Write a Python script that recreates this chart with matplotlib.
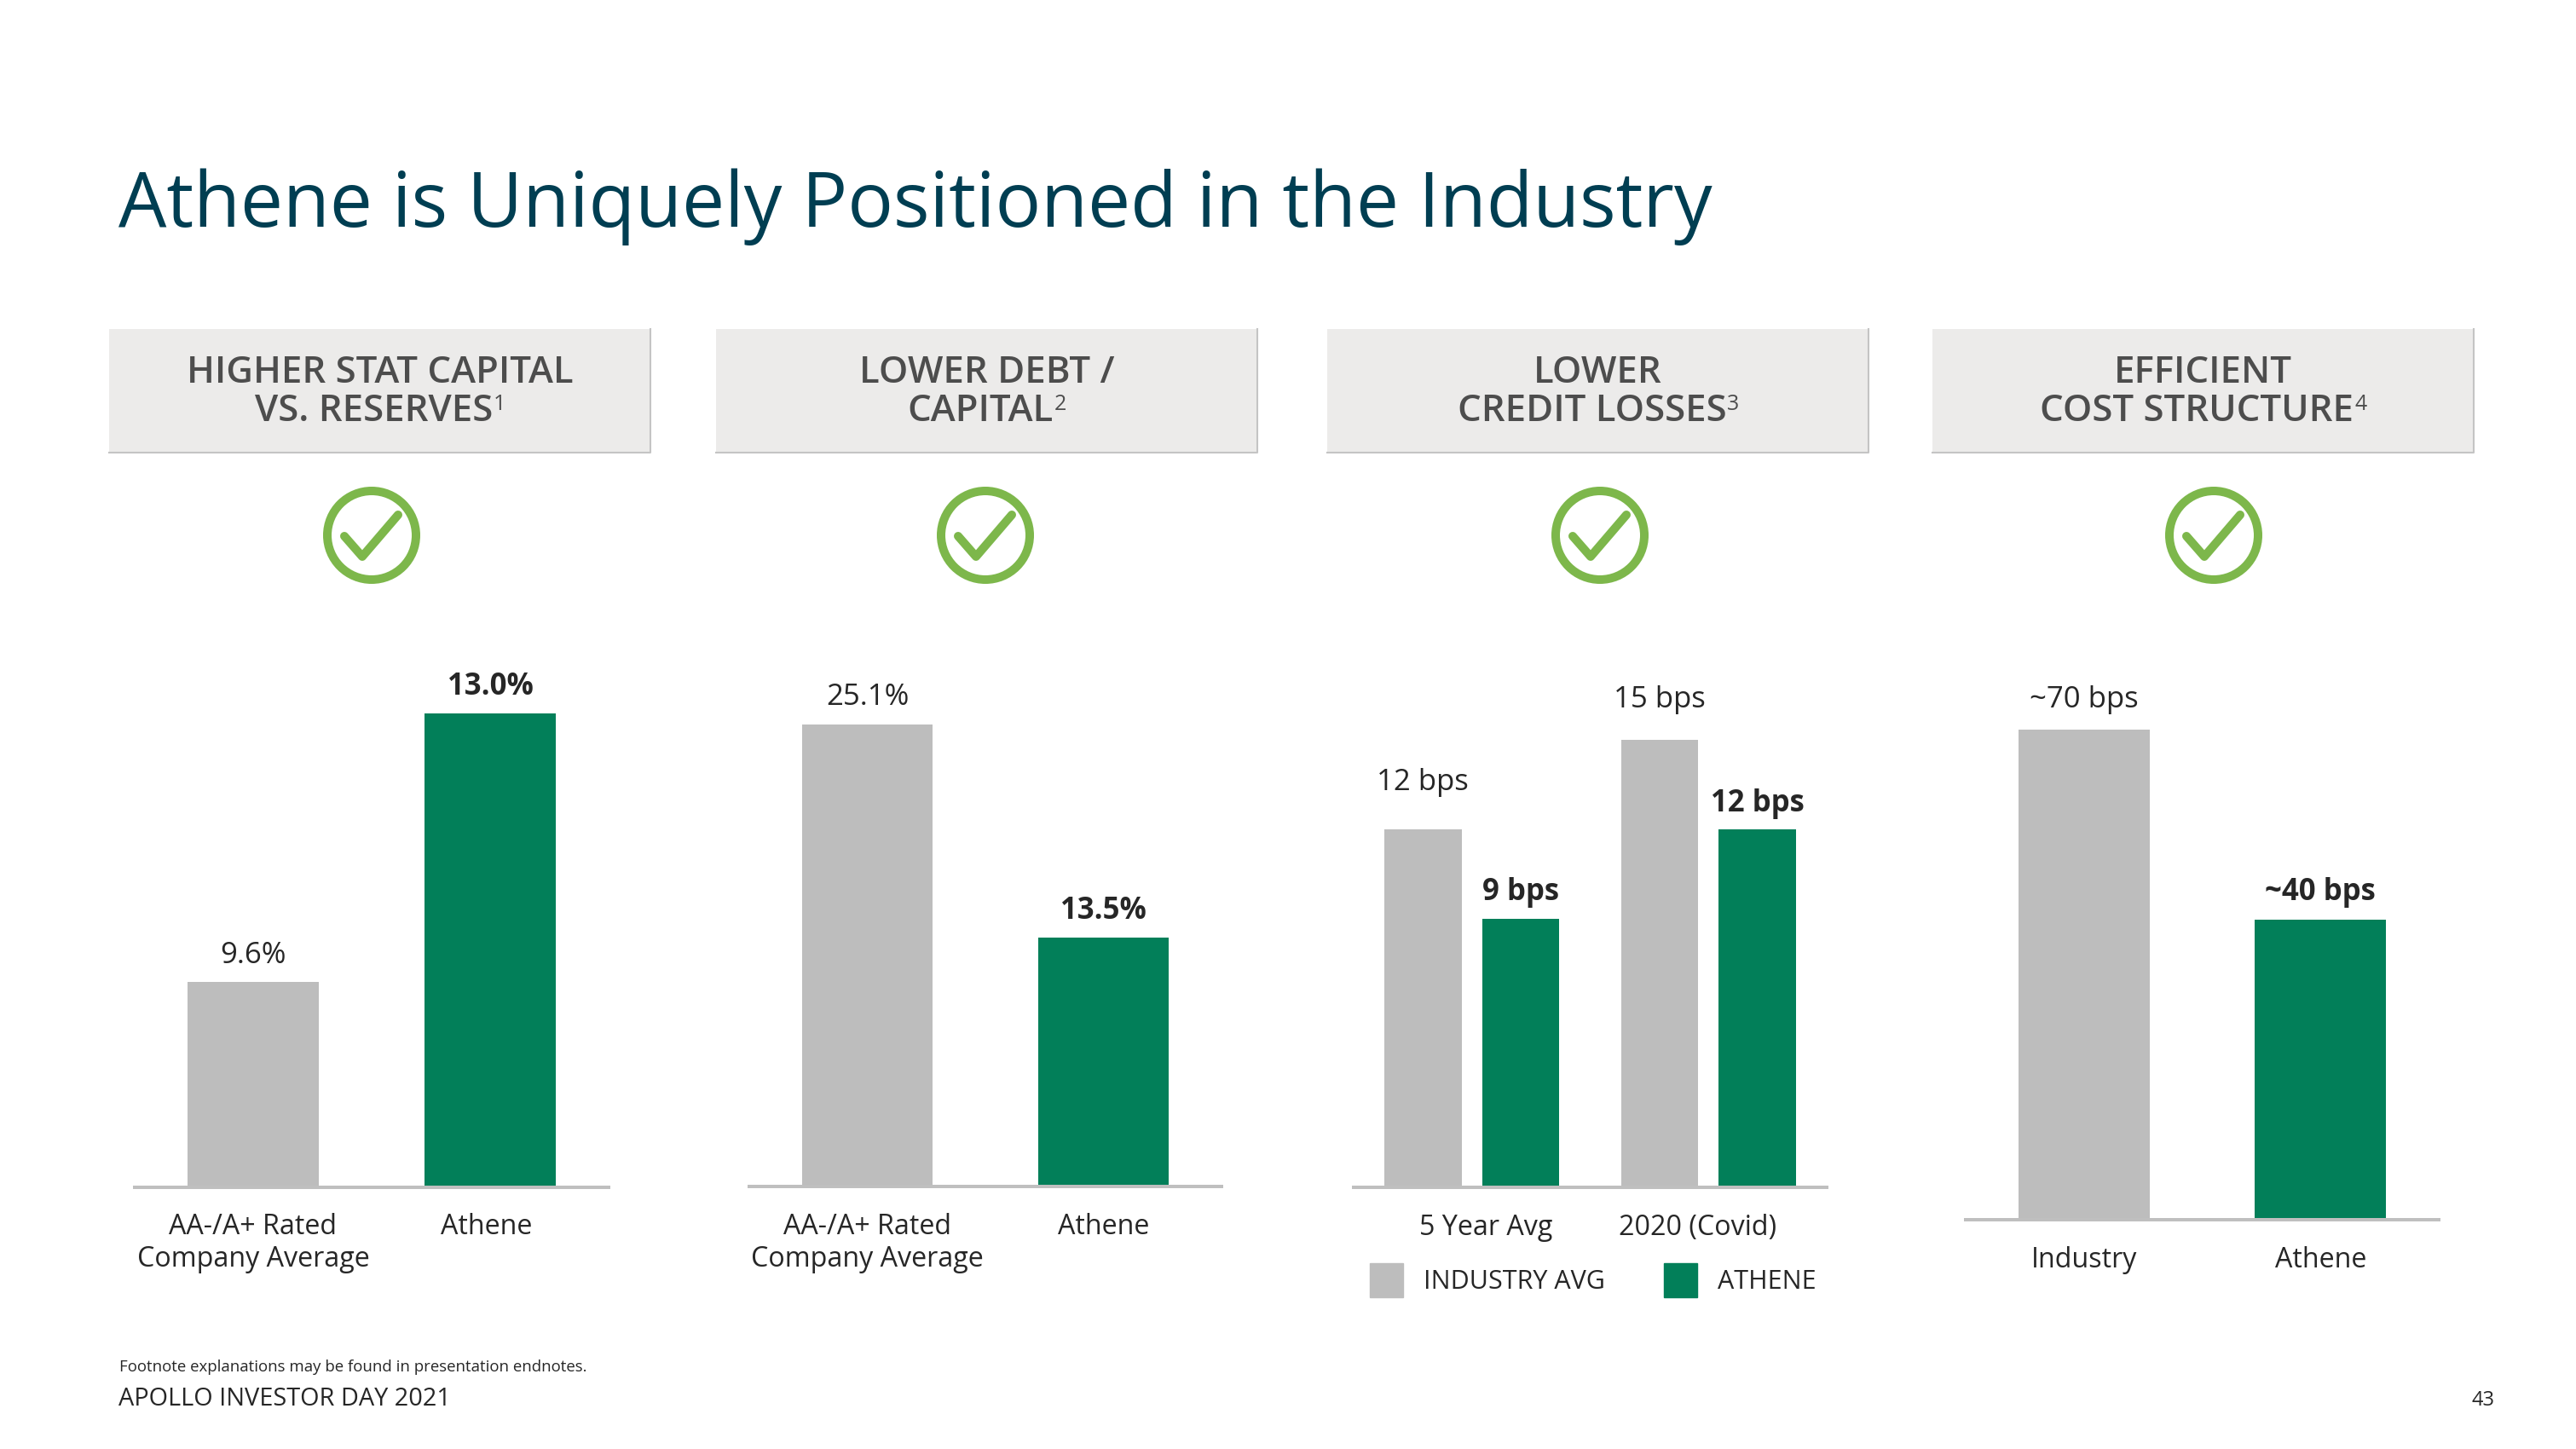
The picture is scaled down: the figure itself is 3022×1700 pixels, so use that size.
#!/usr/bin/env python3
# Athene slide, four small bar panels on a slide layout
import matplotlib
matplotlib.use('Agg')
import matplotlib.pyplot as plt
from matplotlib.patches import Circle, Patch, Rectangle

plt.rcParams['font.family'] = ['Open Sans', 'DejaVu Sans']

#Data section ---------------------------------------------
title = 'Athene is Uniquely Positioned in the Industry'
headers = [('HIGHER STAT CAPITAL', 'VS. RESERVES', '1'),
           ('LOWER DEBT /', 'CAPITAL', '2'),
           ('LOWER', 'CREDIT LOSSES', '3'),
           ('EFFICIENT', 'COST STRUCTURE', '4')]

capital_labels = ['AA-/A+ Rated\nCompany Average', 'Athene']
capital_values = [9.6, 13.0]
capital_texts = ['9.6%', '13.0%']

debt_labels = ['AA-/A+ Rated\nCompany Average', 'Athene']
debt_values = [25.1, 13.5]
debt_texts = ['25.1%', '13.5%']

loss_labels = ['5 Year Avg', '2020 (Covid)']
loss_industry = [12, 15]
loss_athene = [9, 12]

cost_labels = ['Industry', 'Athene']
cost_values = [70, 40]
cost_texts = ['~70 bps', '~40 bps']

legend_labels = ['INDUSTRY AVG', 'ATHENE']

#Style section --------------------------------------------
GREY = '#BDBDBD'
GREEN = '#027F59'
TICK = '#7DB74B'
DARK = '#262626'
W, H = 3022, 1700
PX = 0.72  # points per pixel at dpi=100


def panel_axes(left, right, top, bottom, ylim):
    ax = fig.add_axes([left / W, 1 - bottom / H, (right - left) / W, (bottom - top) / H])
    ax.set_xlim(-0.5, 1.5)
    ax.set_ylim(*ylim)
    ax.patch.set_alpha(0)
    for s in ['top', 'left', 'right']:
        ax.spines[s].set_visible(False)
    ax.spines['bottom'].set_color('#BFBFBF')
    ax.spines['bottom'].set_linewidth(4 * PX)
    ax.spines['bottom'].set_zorder(5)
    ax.set_yticks([])
    ax.tick_params(axis='x', length=0, pad=31 * PX, labelsize=23.2, labelcolor=DARK)
    return ax


def put_label(ax, x, y, text, pad, bold=False):
    ax.annotate(text, (x, y), xytext=(0, pad), textcoords='offset pixels', ha='center', va='baseline',
                fontsize=25, color=DARK, fontweight='bold' if bold else 'normal')


def simple_panel(ax, labels, values, texts, ymin, pads, ticks=(0, 1)):
    ax.bar(range(2), [v - ymin for v in values], 0.555, bottom=ymin, color=[GREY, GREEN])
    ax.set_xticks(ticks, labels, linespacing=1.2)
    put_label(ax, 0, values[0], texts[0], pads[0])
    put_label(ax, 1, values[1], texts[1], pads[1], bold=True)


#Plot section ---------------------------------------------
fig = plt.figure(figsize=(W / 100, H / 100), dpi=100, facecolor='white')
page = fig.add_axes([0, 0, 1, 1])
page.set_xlim(0, W)
page.set_ylim(H, 0)
page.axis('off')

page.text(139, 266, title, fontsize=64.3, color='#003E52', va='baseline')

box_left = [128, 840, 1557, 2267]
tick_x = [436, 1156, 1877, 2597]
for head, x0, cx in zip(headers, box_left, tick_x):
    page.add_patch(Rectangle((x0, 386), 635, 145, fc='#ECEBEA', ec='none'))
    page.plot([x0, x0 + 635, x0 + 635], [531, 531, 386], color='#C4C4C4', lw=1.5)
    mid = x0 + 317.5
    page.text(mid, 449, head[0], fontsize=31.5, color='#4D4D4D', ha='center', va='baseline', fontweight='semibold')
    line2 = page.text(mid, 494, head[1], fontsize=31.5, color='#4D4D4D', ha='center', va='baseline', fontweight='semibold')
    fig.canvas.draw()
    box = line2.get_window_extent()
    sup = page.text(0, 0, head[2], fontsize=18, color='#4D4D4D', va='baseline')
    sup_w = sup.get_window_extent().width
    line2.set_x(mid - sup_w / 2)
    sup.set_position((mid + box.width / 2 - sup_w / 2 + 1, 481))
    # tick badge
    page.add_patch(Circle((cx, 628), 52, fc='none', ec=TICK, lw=10 * PX))
    page.plot([cx - 32, cx - 11, cx + 31], [629, 653, 604], color=TICK, lw=10 * PX,
              solid_capstyle='round', solid_joinstyle='round')

ax1 = panel_axes(158, 714, 790.7, 1392.5, (7, 13.5))
simple_panel(ax1, capital_labels, capital_values, capital_texts, 7, [22, 22], ticks=(0, 0.985))

ax2 = panel_axes(879, 1433, 809, 1391.5, (0, 27))
simple_panel(ax2, debt_labels, debt_values, debt_texts, 0, [23, 22])

ax3 = panel_axes(1588, 2143, 798, 1393, (0, 17))
ax3.bar([-0.207, 0.793], loss_industry, 0.326, color=GREY)
ax3.bar([0.207, 1.207], loss_athene, 0.326, color=GREEN)
ax3.set_xticks([0.058, 0.955], loss_labels)
put_label(ax3, -0.207, loss_industry[0], '%d bps' % loss_industry[0], 46)
put_label(ax3, 0.793, loss_industry[1], '%d bps' % loss_industry[1], 38)
put_label(ax3, 0.207, loss_athene[0], '%d bps' % loss_athene[0], 22, bold=True)
put_label(ax3, 1.207, loss_athene[1], '%d bps' % loss_athene[1], 21, bold=True)

ax4 = panel_axes(2306, 2861, 811, 1431, (-7.4, 76))
simple_panel(ax4, cost_labels, cost_values, cost_texts, -7.4, [26, 23])

fs = 22
handles = [Patch(color=GREY, label=legend_labels[0]), Patch(color=GREEN, label=legend_labels[1])]
fig.legend(handles=handles, loc='center left', bbox_to_anchor=(1607 / W, 1 - 1502 / H), ncol=2, frameon=False,
           fontsize=fs, labelcolor=DARK, borderpad=0, borderaxespad=0, handlelength=39 * PX / fs,
           handleheight=1.637, handletextpad=24 * PX / fs, columnspacing=69 * PX / fs)

page.text(140, 1609, 'Footnote explanations may be found in presentation endnotes.', fontsize=13.4, color=DARK, va='baseline')
page.text(139, 1649, 'APOLLO INVESTOR DAY 2021', fontsize=20.8, color=DARK, va='baseline')
page.text(2926, 1649, '43', fontsize=17, color=DARK, ha='right', va='baseline')

plt.savefig('out.png', dpi=100)
